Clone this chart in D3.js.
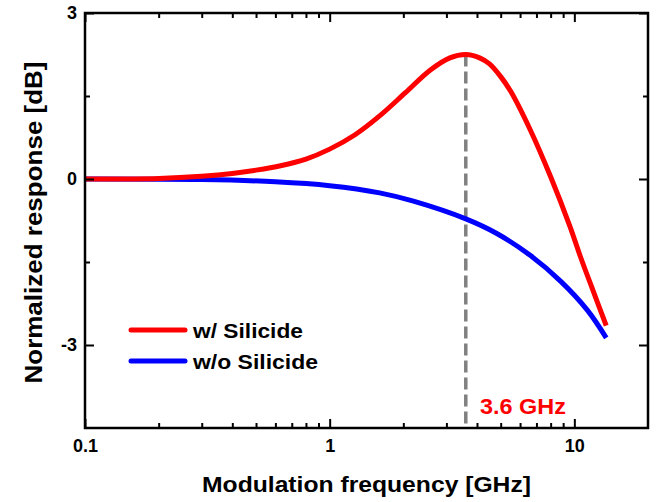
<!DOCTYPE html>
<html>
<head>
<meta charset="utf-8">
<script src="https://cdn.jsdelivr.net/npm/d3@7"></script>
<style>
  body { margin: 0; background: #fff; }
  svg { display: block; }
  text { font-family: "Liberation Sans", Arial, sans-serif; font-weight: bold; fill: #000; }
</style>
</head>
<body>
<svg id="chart" width="661" height="502"></svg>
<script>
// ---- data ----
const freqRed = [0.1, 0.2, 0.3, 0.4, 0.5, 0.63, 0.8, 1.0, 1.27, 1.6, 2.04, 2.58, 3.1, 3.6, 4.1, 4.5, 5.0, 5.5, 6.6, 8.0, 9.6, 10.6, 12.0, 13.5];
const valRed  = [0, 0.01, 0.05, 0.1, 0.16, 0.24, 0.36, 0.54, 0.8, 1.14, 1.56, 1.97, 2.19, 2.25, 2.19, 2.08, 1.85, 1.58, 0.89, 0.04, -0.86, -1.41, -2.05, -2.65];
const freqBlue = [0.1, 0.3, 0.6, 1.0, 1.6, 2.2, 3.6, 4.8, 6.6, 8.8, 11.3, 13.5];
const valBlue  = [0, -0.01, -0.05, -0.12, -0.25, -0.40, -0.72, -0.98, -1.38, -1.85, -2.37, -2.87];
const seriesNames = ["w/ Silicide", "w/o Silicide"];
const seriesColors = ["#ff0000", "#0000ff"];
const xMajorTicks = [0.1, 1, 10];
const xTickLabels = ["0.1", "1", "10"];
const xMinorTicks = [0.2, 0.3, 0.4, 0.5, 0.6, 0.7, 0.8, 0.9, 2, 3, 4, 5, 6, 7, 8, 9];
const yMajorTicks = [-3, 0, 3];
const yTickLabels = ["-3", "0", "3"];
const yMinorTicks = [-1.5, 1.5];
const peakFreq = 3.6;
const peakVal = 2.25;
const peakLabel = "3.6 GHz";
const xTitle = "Modulation frequency [GHz]";
const yTitle = "Normalized response [dB]";

// ---- layout ----
const L = 85, R = 648, T = 13, B = 428;
const svg = d3.select("#chart");
const x = d3.scaleLog().domain([0.1, 20]).range([L, R]);
const y = d3.scaleLinear().domain([-4.5, 3]).range([B, T]);

// dashed peak marker
svg.append("line")
  .attr("x1", x(peakFreq)).attr("x2", x(peakFreq))
  .attr("y1", y(peakVal)).attr("y2", B)
  .attr("stroke", "#808080").attr("stroke-width", 3.5)
  .attr("stroke-dasharray", "12,5");

// curves
const line = d3.line().x(d => x(d[0])).y(d => y(d[1])).curve(d3.curveCatmullRom.alpha(0.5));
const redData = freqRed.map((f, i) => [f, valRed[i]]);
const blueData = freqBlue.map((f, i) => [f, valBlue[i]]);
svg.append("path").datum(blueData).attr("d", line)
  .attr("fill", "none").attr("stroke", seriesColors[1]).attr("stroke-width", 5);
svg.append("path").datum(redData).attr("d", line)
  .attr("fill", "none").attr("stroke", seriesColors[0]).attr("stroke-width", 5);

// axes
function styleAxis(g) {
  g.select(".domain").remove();
  g.selectAll(".tick line").attr("stroke", "#000").attr("stroke-width", 2);
  g.selectAll(".tick text").attr("font-size", 18).attr("font-family", "Liberation Sans, Arial, sans-serif").attr("font-weight", "bold").attr("fill", "#000");
}
svg.append("g").attr("transform", `translate(0,${B})`)
  .call(d3.axisBottom(x).tickValues(xMajorTicks).tickFormat((d, i) => xTickLabels[i]).tickSize(-9).tickPadding(11))
  .call(styleAxis);
svg.append("g").attr("transform", `translate(0,${B})`)
  .call(d3.axisBottom(x).tickValues(xMinorTicks).tickFormat("").tickSize(-5))
  .call(styleAxis);
svg.append("g").attr("transform", `translate(0,${T})`)
  .call(d3.axisTop(x).tickValues(xMajorTicks).tickFormat("").tickSize(-9))
  .call(styleAxis);
svg.append("g").attr("transform", `translate(0,${T})`)
  .call(d3.axisTop(x).tickValues(xMinorTicks).tickFormat("").tickSize(-5))
  .call(styleAxis);
svg.append("g").attr("transform", `translate(${L},0)`)
  .call(d3.axisLeft(y).tickValues(yMajorTicks).tickFormat((d, i) => yTickLabels[i]).tickSize(-9).tickPadding(8))
  .call(styleAxis);
svg.append("g").attr("transform", `translate(${L},0)`)
  .call(d3.axisLeft(y).tickValues(yMinorTicks).tickFormat("").tickSize(-5))
  .call(styleAxis);
svg.append("g").attr("transform", `translate(${R},0)`)
  .call(d3.axisRight(y).tickValues(yMajorTicks).tickFormat("").tickSize(-9))
  .call(styleAxis);
svg.append("g").attr("transform", `translate(${R},0)`)
  .call(d3.axisRight(y).tickValues(yMinorTicks).tickFormat("").tickSize(-5))
  .call(styleAxis);

// frame
svg.append("rect").attr("x", L).attr("y", T).attr("width", R - L).attr("height", B - T)
  .attr("fill", "none").attr("stroke", "#000").attr("stroke-width", 2.5);

// axis titles
svg.append("text").attr("x", (L + R) / 2).attr("y", 492)
  .attr("text-anchor", "middle").attr("font-size", 22)
  .attr("textLength", 329).attr("lengthAdjust", "spacingAndGlyphs")
  .text(xTitle);
svg.append("text").attr("transform", `translate(42,${(T + B) / 2 + 2}) rotate(-90)`)
  .attr("text-anchor", "middle").attr("font-size", 23)
  .attr("textLength", 322).attr("lengthAdjust", "spacingAndGlyphs")
  .text(yTitle);

// legend
const legY = [330, 361];
const legTextLen = [110, 125];
seriesNames.forEach((name, i) => {
  svg.append("line").attr("x1", 131).attr("x2", 185).attr("y1", legY[i]).attr("y2", legY[i])
    .attr("stroke", seriesColors[i]).attr("stroke-width", 5).attr("stroke-linecap", "round");
  svg.append("text").attr("x", 193).attr("y", legY[i] + 8)
    .attr("font-size", 21).attr("textLength", legTextLen[i]).attr("lengthAdjust", "spacingAndGlyphs")
    .text(name);
});

// peak label
svg.append("text").attr("x", 480).attr("y", 414)
  .attr("font-size", 22).attr("textLength", 86).attr("lengthAdjust", "spacingAndGlyphs")
  .style("fill", "#ff0000")
  .text(peakLabel);
</script>
</body>
</html>
